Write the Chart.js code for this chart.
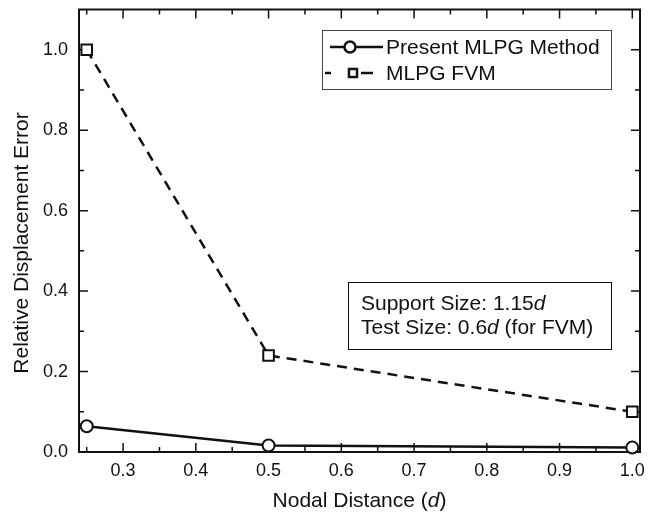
<!DOCTYPE html>
<html>
<head>
<meta charset="utf-8">
<script src="https://cdn.jsdelivr.net/npm/chart.js@4.4.1/dist/chart.umd.min.js"></script>
<style>
    html, body { margin: 0; padding: 0; background: #fff; }
    #wrap { width: 657px; height: 516px; position: relative; }
</style>
</head>
<body>
<div id="wrap"><canvas id="chart"></canvas></div>
<script>
// 節点間隔 (d) ごとの相対変位誤差
const nodalDistance = [0.25, 0.5, 1.0];
const presentMlpg = [0.064, 0.016, 0.011];
const mlpgFvm = [1.0, 0.24, 0.10];

const seriesNames = ['Present MLPG Method', 'MLPG FVM'];
const xTickValues = [0.3, 0.4, 0.5, 0.6, 0.7, 0.8, 0.9, 1.0];
const xMinorValues = [0.25, 0.35, 0.45, 0.55, 0.65, 0.75, 0.85, 0.95];
const yTickValues = [0.0, 0.2, 0.4, 0.6, 0.8, 1.0];
const yMinorValues = [0.1, 0.3, 0.5, 0.7, 0.9];

const FONT = "'Liberation Sans', Arial, sans-serif";
const INK = '#111';

function toPoints(values) {
    return nodalDistance.map((x, i) => ({ x: x, y: values[i] }));
}

/**
 * 枠線・内向き目盛り・軸タイトル・凡例・注記を描く
 */
const framePlugin = {
    id: 'frame',
    beforeDatasetsDraw(chart) {
        const { ctx, chartArea: a, scales: { x, y } } = chart;
        ctx.save();
        ctx.strokeStyle = INK;
        ctx.lineWidth = 1.5;
        const tick = (v, len, horiz) => {
            ctx.beginPath();
            if (horiz) {
                const px = x.getPixelForValue(v);
                ctx.moveTo(px, a.bottom); ctx.lineTo(px, a.bottom - len);
                ctx.moveTo(px, a.top); ctx.lineTo(px, a.top + len);
            } else {
                const py = y.getPixelForValue(v);
                ctx.moveTo(a.left, py); ctx.lineTo(a.left + len, py);
                ctx.moveTo(a.right, py); ctx.lineTo(a.right - len, py);
            }
            ctx.stroke();
        };
        xTickValues.forEach(v => tick(v, 9, true));
        xMinorValues.forEach(v => tick(v, 5, true));
        yTickValues.forEach(v => tick(v, 9, false));
        yMinorValues.forEach(v => tick(v, 5, false));
        ctx.lineWidth = 2;
        ctx.strokeRect(a.left, a.top, a.right - a.left, a.bottom - a.top);
        ctx.restore();
    },
    afterDraw(chart) {
        const { ctx, chartArea: a } = chart;
        ctx.save();
        ctx.fillStyle = INK;
        ctx.textBaseline = 'middle';

        // 斜体の d を含む一行テキスト
        const mixed = (parts, x0, y0, size, align) => {
            const fonts = parts.map(p => `${p.i ? 'italic ' : ''}${size}px ${FONT}`);
            let total = 0;
            parts.forEach((p, i) => { ctx.font = fonts[i]; total += ctx.measureText(p.t).width; });
            let cx = align === 'center' ? x0 - total / 2 : x0;
            ctx.textAlign = 'left';
            parts.forEach((p, i) => {
                ctx.font = fonts[i];
                ctx.fillText(p.t, cx, y0);
                cx += ctx.measureText(p.t).width;
            });
        };

        // x 軸タイトル
        mixed([{ t: 'Nodal Distance (' }, { t: 'd', i: true }, { t: ')' }],
            (a.left + a.right) / 2, 501, 21, 'center');

        // y 軸タイトル
        ctx.save();
        ctx.translate(22, 243);
        ctx.rotate(-Math.PI / 2);
        ctx.font = `21px ${FONT}`;
        ctx.textAlign = 'center';
        ctx.fillText('Relative Displacement Error', 0, 0);
        ctx.restore();

        // 凡例
        ctx.strokeStyle = '#444';
        ctx.lineWidth = 1;
        ctx.strokeRect(322.5, 30.5, 289, 59);
        ctx.strokeStyle = INK;
        ctx.lineWidth = 2.5;
        const row1 = 47, row2 = 73;
        ctx.beginPath();
        ctx.moveTo(330, row1); ctx.lineTo(383, row1);
        ctx.stroke();
        ctx.beginPath();
        ctx.arc(350, row1, 5.5, 0, Math.PI * 2);
        ctx.fillStyle = '#fff'; ctx.fill(); ctx.stroke();
        ctx.beginPath();
        ctx.moveTo(325, row2); ctx.lineTo(331, row2);
        ctx.moveTo(361, row2); ctx.lineTo(373, row2);
        ctx.stroke();
        ctx.fillStyle = '#fff';
        ctx.fillRect(349, row2 - 4, 8, 8);
        ctx.strokeRect(349, row2 - 4, 8, 8);
        ctx.fillStyle = INK;
        ctx.font = `21px ${FONT}`;
        ctx.textAlign = 'left';
        ctx.fillText(seriesNames[0], 386, row1 + 1);
        ctx.fillText(seriesNames[1], 386, row2 + 1);

        // 注記
        ctx.strokeStyle = INK;
        ctx.lineWidth = 1;
        ctx.strokeRect(348.5, 282.5, 263, 67);
        mixed([{ t: 'Support Size: 1.15' }, { t: 'd', i: true }], 361, 304, 21, 'left');
        mixed([{ t: 'Test Size: 0.6' }, { t: 'd', i: true }, { t: ' (for FVM)' }], 361, 328, 21, 'left');
        ctx.restore();
    }
};

const ctx = document.getElementById('chart').getContext('2d');
new Chart(ctx, {
    type: 'line',
    data: {
        datasets: [
            {
                label: seriesNames[0],
                data: toPoints(presentMlpg),
                borderColor: INK,
                borderWidth: 2.5,
                pointStyle: 'circle',
                pointRadius: 6,
                pointBorderWidth: 2,
                pointBackgroundColor: '#fff',
                pointBorderColor: INK
            },
            {
                label: seriesNames[1],
                data: toPoints(mlpgFvm),
                borderColor: INK,
                borderWidth: 2.5,
                borderDash: [10, 7],
                pointStyle: 'rect',
                pointRadius: 7.5,
                pointBorderWidth: 2,
                pointBackgroundColor: '#fff',
                pointBorderColor: INK
            }
        ]
    },
    options: {
        responsive: true,
        maintainAspectRatio: false,
        animation: false,
        clip: false,
        layout: { padding: { top: 7.5, right: 17, left: 0, bottom: 0 } },
        plugins: {
            legend: { display: false },
            tooltip: { enabled: false }
        },
        scales: {
            x: {
                type: 'linear',
                min: 0.2394,
                max: 1.0106,
                afterFit: s => { s.height = 64; s.paddingLeft = 0; s.paddingRight = 0; },
                afterBuildTicks: s => { s.ticks = xTickValues.map(v => ({ value: v })); },
                grid: { display: false, drawTicks: false },
                border: { display: false },
                ticks: {
                    color: INK,
                    padding: 8,
                    font: { family: FONT, size: 18 },
                    callback: v => v.toFixed(1)
                }
            },
            y: {
                min: 0,
                max: 1.1,
                afterFit: s => { s.width = 79; s.paddingTop = 0; s.paddingBottom = 0; },
                afterBuildTicks: s => { s.ticks = yTickValues.map(v => ({ value: v })); },
                grid: { display: false, drawTicks: false },
                border: { display: false },
                ticks: {
                    color: INK,
                    padding: 11,
                    font: { family: FONT, size: 18 },
                    callback: v => v.toFixed(1)
                }
            }
        }
    },
    plugins: [framePlugin]
});
</script>
</body>
</html>
